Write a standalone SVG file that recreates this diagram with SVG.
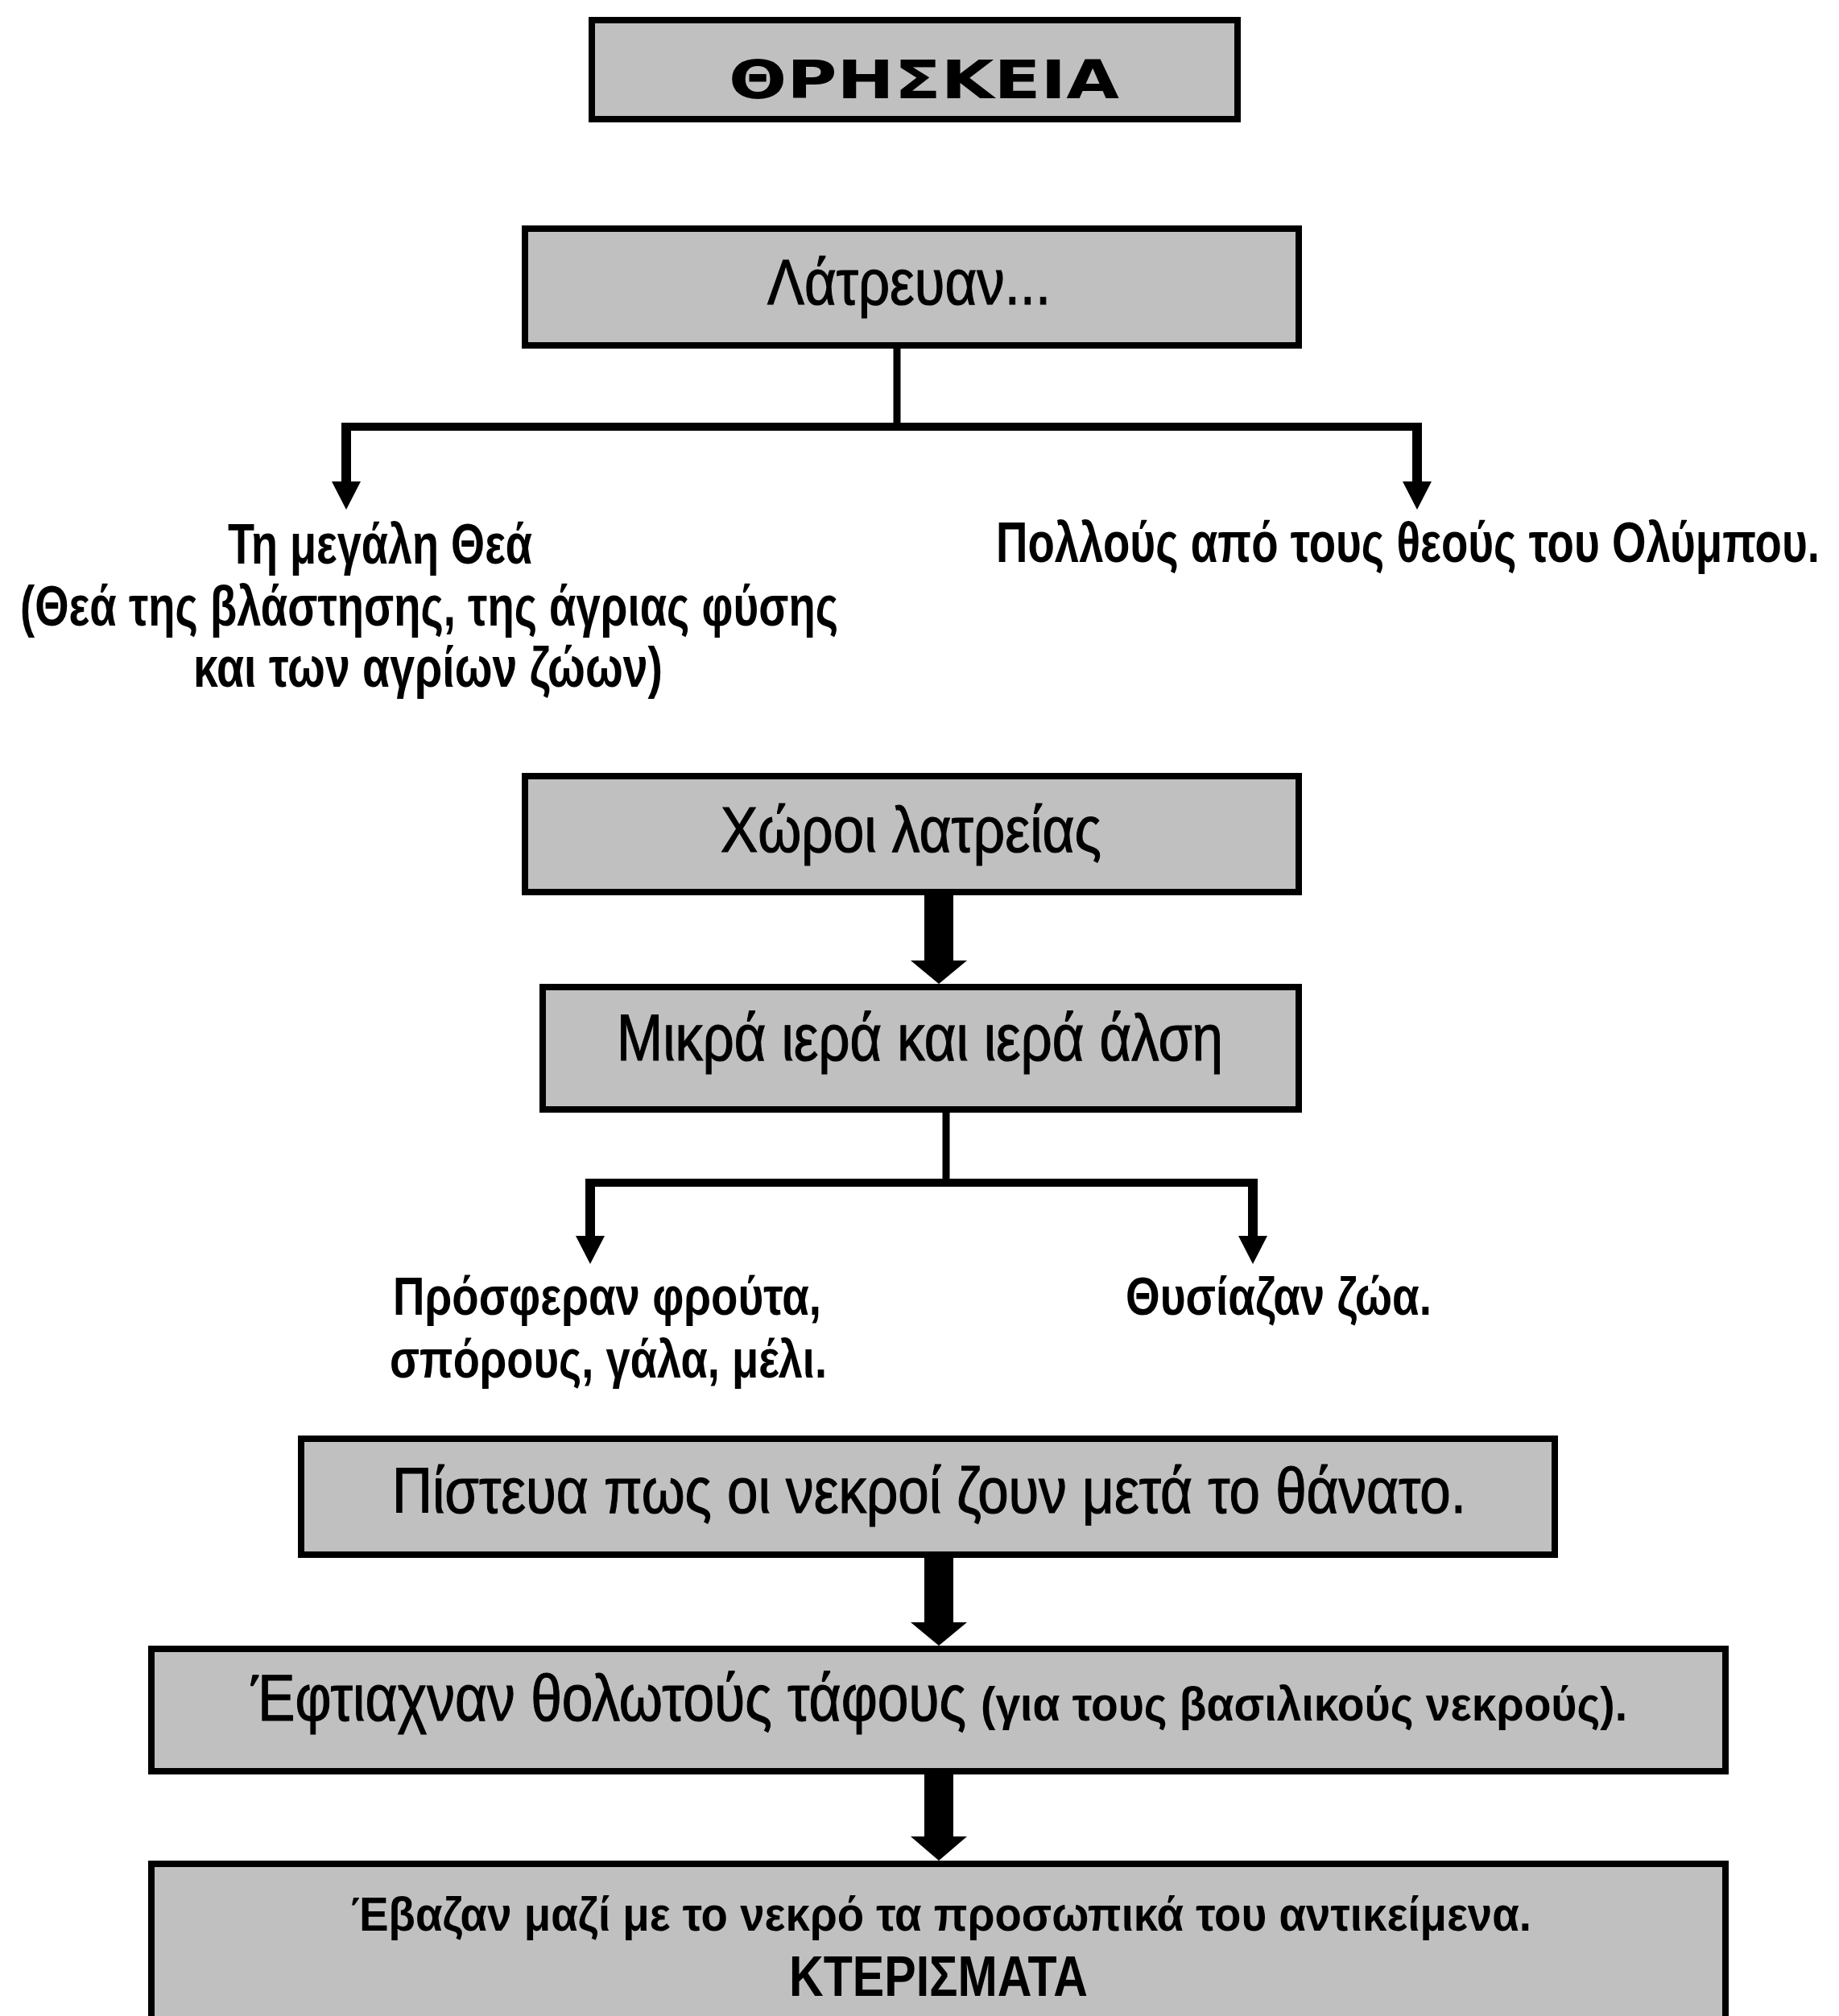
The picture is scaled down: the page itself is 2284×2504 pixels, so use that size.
<svg xmlns="http://www.w3.org/2000/svg" width="2284" height="2504" viewBox="0 0 2284 2504">
<style>
.box{fill:#c0c0c0;stroke:#000;stroke-width:8}
.reg{font-family:"Liberation Sans",Arial,sans-serif;font-weight:normal;fill:#000;stroke:#000;stroke-width:1.2}
.bold{font-family:"Liberation Sans",Arial,sans-serif;font-weight:bold;fill:#000}
.title{font-family:"DejaVu Sans","Liberation Sans",sans-serif;font-weight:bold;fill:#000}
.line{stroke:#000;fill:none}
.head{fill:#000}
</style>
<rect width="2284" height="2504" fill="#fff"/>
<g id="connectors">
  <line class="line" x1="1114" y1="433" x2="1114" y2="530" stroke-width="9"/>
  <line class="line" x1="424" y1="530" x2="1766" y2="530" stroke-width="10"/>
  <line class="line" x1="430" y1="525" x2="430" y2="602" stroke-width="12"/>
  <line class="line" x1="1760" y1="525" x2="1760" y2="602" stroke-width="12"/>
  <polygon class="head" points="412,598 448,598 430,633"/>
  <polygon class="head" points="1742,598 1778,598 1760,633"/>

  <rect class="head" x="1148" y="1112" width="36" height="84"/>
  <polygon class="head" points="1131,1193 1201,1193 1166,1222"/>

  <line class="line" x1="1175" y1="1382" x2="1175" y2="1469" stroke-width="9"/>
  <line class="line" x1="727" y1="1469" x2="1562" y2="1469" stroke-width="10"/>
  <line class="line" x1="733" y1="1464" x2="733" y2="1538" stroke-width="12"/>
  <line class="line" x1="1556" y1="1464" x2="1556" y2="1538" stroke-width="12"/>
  <polygon class="head" points="715,1535 751,1535 733,1570"/>
  <polygon class="head" points="1538,1535 1574,1535 1556,1570"/>

  <rect class="head" x="1148" y="1935" width="36" height="84"/>
  <polygon class="head" points="1131,2015 1201,2015 1166,2044"/>

  <rect class="head" x="1148" y="2204" width="36" height="80"/>
  <polygon class="head" points="1131,2281 1201,2281 1166,2311"/>
</g>
<g id="title">
  <rect class="box" x="735" y="25" width="802" height="123"/>
  <text class="title" x="905" y="122" font-size="66" textLength="485" lengthAdjust="spacingAndGlyphs">ΘΡΗΣΚΕΙΑ</text>
</g>
<g id="latreuan">
  <rect class="box" x="652" y="284" width="961" height="145"/>
  <text class="reg" x="953" y="378" font-size="80" textLength="352" lengthAdjust="spacingAndGlyphs">Λάτρευαν...</text>
</g>
<g id="megali-thea">
  <text class="bold" x="283" y="700" font-size="70" textLength="378" lengthAdjust="spacingAndGlyphs">Τη μεγάλη Θεά</text>
  <text class="bold" x="25" y="777" font-size="70" textLength="1016" lengthAdjust="spacingAndGlyphs">(Θεά της βλάστησης, της άγριας φύσης</text>
  <text class="bold" x="240" y="853" font-size="70" textLength="583" lengthAdjust="spacingAndGlyphs">και των αγρίων ζώων)</text>
</g>
<g id="olympus">
  <text class="bold" x="1237" y="698" font-size="70" textLength="1023" lengthAdjust="spacingAndGlyphs">Πολλούς από τους θεούς του Ολύμπου.</text>
</g>
<g id="xoroi">
  <rect class="box" x="652" y="964" width="961" height="144"/>
  <text class="reg" x="895" y="1058" font-size="80" textLength="473" lengthAdjust="spacingAndGlyphs">Χώροι λατρείας</text>
</g>
<g id="mikra">
  <rect class="box" x="674" y="1226" width="939" height="152"/>
  <text class="reg" x="766" y="1317" font-size="82" textLength="753" lengthAdjust="spacingAndGlyphs">Μικρά ιερά και ιερά άλση</text>
</g>
<g id="prosferan">
  <text class="bold" x="488" y="1633" font-size="66" textLength="532" lengthAdjust="spacingAndGlyphs">Πρόσφεραν φρούτα,</text>
  <text class="bold" x="484" y="1711" font-size="66" textLength="543" lengthAdjust="spacingAndGlyphs">σπόρους, γάλα, μέλι.</text>
</g>
<g id="thysiazan">
  <text class="bold" x="1398" y="1633" font-size="66" textLength="380" lengthAdjust="spacingAndGlyphs">Θυσίαζαν ζώα.</text>
</g>
<g id="pisteua">
  <rect class="box" x="374" y="1787" width="1557" height="144"/>
  <text class="reg" x="487" y="1879" font-size="80" textLength="1334" lengthAdjust="spacingAndGlyphs">Πίστευα πως οι νεκροί ζουν μετά το θάνατο.</text>
</g>
<g id="eftiaxnan">
  <rect class="box" x="188" y="2048" width="1955" height="152"/>
  <text x="312" y="2137"><tspan class="reg" font-size="82" textLength="888" lengthAdjust="spacingAndGlyphs">Έφτιαχναν θολωτούς τάφους</tspan><tspan class="bold" x="1218" font-size="60" textLength="803" lengthAdjust="spacingAndGlyphs">(για τους βασιλικούς νεκρούς).</tspan></text>
</g>
<g id="ebazan">
  <rect class="box" x="188" y="2315" width="1955" height="220"/>
  <text class="bold" x="436" y="2398" font-size="60" textLength="1466" lengthAdjust="spacingAndGlyphs">Έβαζαν μαζί με το νεκρό τα προσωπικά του αντικείμενα.</text>
  <text class="bold" x="980" y="2479" font-size="70" textLength="371" lengthAdjust="spacingAndGlyphs">ΚΤΕΡΙΣΜΑΤΑ</text>
</g>
</svg>
